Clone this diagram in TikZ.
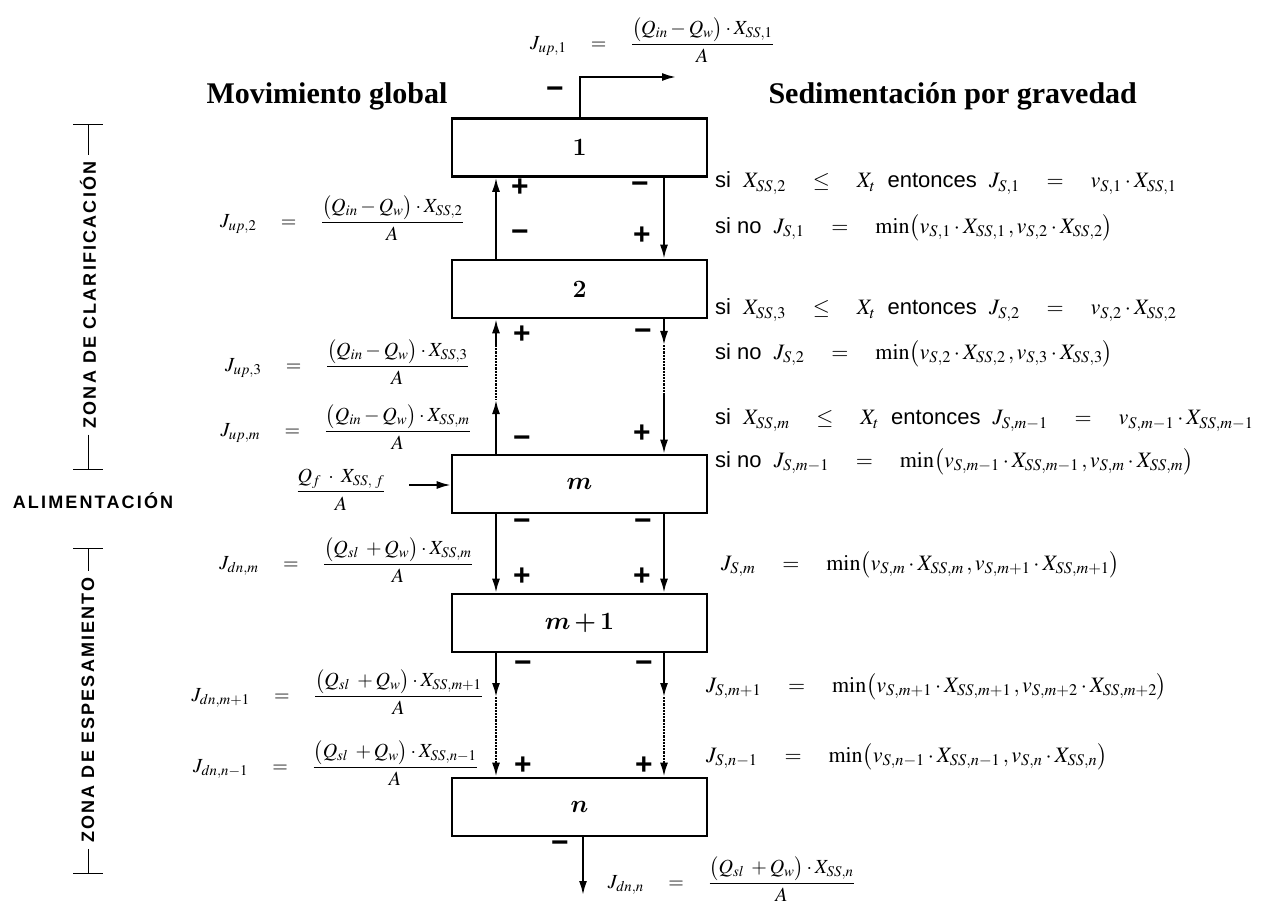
\documentclass[tikz,border=0pt]{standalone}
\usepackage{amsmath}
\usepackage{mathptmx}
\usepackage[no-math]{fontspec}
\setmainfont{Liberation Serif}
\setsansfont{Liberation Sans}
\newfontfamily\zonefont[LetterSpace=12]{Liberation Sans}
\usetikzlibrary{arrows.meta}
\newcommand{\stagenum}[1]{{\usefont{OT1}{cmr}{bx}{n}#1}}
\newcommand{\stagevar}[1]{{\usefont{OML}{cmm}{b}{it}#1}}

\begin{document}
\begin{tikzpicture}[x=1pt, y=-1pt,
  stage/.style={draw, line width=2.6pt, minimum width=255pt, minimum height=58pt, inner sep=0pt, font=\fontsize{26}{28}\selectfont},
  flow/.style={line width=2pt, -{Latex[length=14pt, width=8pt]}},
  gap/.style={line width=2.2pt, densely dotted},
  sgn/.style={inner sep=0pt, font=\fontsize{30}{30}\sffamily\bfseries},
  eq/.style={inner sep=0pt, font=\fontsize{20}{22}\selectfont},
  cond/.style={anchor=west, inner sep=0pt, font=\fontsize{22}{24}\sffamily},
  zone/.style={inner sep=6pt, font=\fontsize{18}{20}\zonefont\bfseries},
  tick/.style={line width=1pt}]
  \useasboundingbox (0,0) rectangle (1261,909);

  % stages
  \node[stage] (b1) at (579.5,147.5) {\stagenum{1}};
  \node[stage] (b2) at (579.5,289) {\stagenum{2}};
  \node[stage] (bm) at (579.5,484) {\stagevar{m}};
  \node[stage] (bm1) at (579.5,623) {\stagevar{m}\kern4pt\stagenum{+}\kern4pt\stagenum{1}};
  \node[stage] (bn) at (579.5,807) {\stagevar{n}};

  % headings
  \node[anchor=west, font=\fontsize{30}{32}\bfseries] (hmov) at (203,96) {Movimiento global};
  \node[anchor=west, font=\fontsize{30}{32}\bfseries] (hsed) at (765,96) {Sedimentación por gravedad};

  % zones
  \node[zone, rotate=90] (zclar) at (88,295) {ZONA DE CLARIFICACIÓN};
  \draw[tick] (73,125) -- (103,125);
  \draw[tick] (88,125) -- (zclar.east);
  \draw[tick] (zclar.west) -- (88,469);
  \draw[tick] (73,469) -- (103,469);
  \node[zone, inner sep=0pt] (zfeed) at (93,501) {ALIMENTACIÓN};
  \node[zone, rotate=90] (zesp) at (88,710) {ZONA DE ESPESAMIENTO};
  \draw[tick] (73,548) -- (103,548);
  \draw[tick] (88,548) -- (zesp.east);
  \draw[tick] (zesp.west) -- (88,873);
  \draw[tick] (73,873) -- (103,873);

  % connectors
  \coordinate (L) at (496,0);
  \coordinate (R) at (664,0);
  \coordinate (out) at (676,77);
  \coordinate (under) at (583,895);
  \coordinate (in) at (409,485);
  \draw[flow] (b1.north) |- (out);
  \draw[flow] (b2.north -| L) -- (b1.south -| L);
  \draw[flow] (b1.south -| R) -- (b2.north -| R);
  \coordinate (La) at (496,345);
  \coordinate (Lb) at (496,400);
  \coordinate (Ra) at (664,345);
  \coordinate (Rb) at (664,395);
  \draw[flow] (La) -- (b2.south -| L);
  \draw[gap] (La) -- (Lb);
  \draw[flow] (bm.north -| L) -- (Lb);
  \draw[flow] (b2.south -| R) -- (Ra);
  \draw[gap] (Ra) -- (Rb);
  \draw[flow] (Rb) -- (bm.north -| R);
  \draw[flow] (in) -- (in -| bm.west);
  \draw[flow] (bm.south -| L) -- (bm1.north -| L);
  \draw[flow] (bm.south -| R) -- (bm1.north -| R);
  \coordinate (Lc) at (496,697);
  \coordinate (Rc) at (664,697);
  \draw[flow] (bm1.south -| L) -- (Lc);
  \draw[flow] (bm1.south -| R) -- (Rc);
  \draw[gap, -{Latex[length=14pt, width=8pt]}] (Lc) -- (bn.north -| L);
  \draw[gap, -{Latex[length=14pt, width=8pt]}] (Rc) -- (bn.north -| R);
  \draw[flow] (bn.south -| under) -- (under);

  % signs
  \foreach \x/\y/\s [count=\i] in {555/93/−, 520/188/+, 640/188/−, 520/236/−, 642/236/+,
      522/335/+, 643/335/−, 522/442/−, 642/434/+, 522/525/−, 643/525/−, 522/577/+, 642/577/+,
      523/667/−, 644/667/−, 523/766/+, 644/766/+, 560/847/−}
    \node[sgn] (sg\i) at (\x,\y) {\s};

  % bulk flux
  \node[eq, anchor=east] (jup1) at (774,40) {$J_{up,1}\quad=\quad\dfrac{\bigl(Q_{in}-Q_{w}\bigr)\cdot X_{SS,1}}{A}$};
  \node[eq, anchor=east] (jup2) at (464,218) {$J_{up,2}\quad=\quad\dfrac{\bigl(Q_{in}-Q_{w}\bigr)\cdot X_{SS,2}}{A}$};
  \node[eq, anchor=east] (jup3) at (469,362) {$J_{up,3}\quad=\quad\dfrac{\bigl(Q_{in}-Q_{w}\bigr)\cdot X_{SS,3}}{A}$};
  \node[eq, anchor=east] (jupm) at (471,427) {$J_{up,m}\quad=\quad\dfrac{\bigl(Q_{in}-Q_{w}\bigr)\cdot X_{SS,m}}{A}$};
  \node[eq] (qf) at (341,490) {$\dfrac{Q_{f}\;\cdot\;X_{SS,\;f}}{A}$};
  \node[eq, anchor=east] (jdnm) at (473,560) {$J_{dn,m}\quad=\quad\dfrac{\bigl(Q_{sl}\;+Q_{w}\bigr)\cdot X_{SS,m}}{A}$};
  \node[eq, anchor=east] (jdnm1) at (483,692) {$J_{dn,m+1}\quad=\quad\dfrac{\bigl(Q_{sl}\;+Q_{w}\bigr)\cdot X_{SS,m+1}}{A}$};
  \node[eq, anchor=east] (jdnn1) at (478,763) {$J_{dn,n-1}\quad=\quad\dfrac{\bigl(Q_{sl}\;+Q_{w}\bigr)\cdot X_{SS,n-1}}{A}$};
  \node[eq, anchor=east] (jdnn) at (855,879) {$J_{dn,n}\quad=\quad\dfrac{\bigl(Q_{sl}\;+Q_{w}\bigr)\cdot X_{SS,n}}{A}$};

  % settling flux
  \node[cond] (c1) at (715,183) {si\ \ $X_{SS,2}\quad\le\quad X_{t}$\ \ entonces\ \ $J_{S,1}\quad=\quad v_{S,1}\cdot X_{SS,1}$};
  \node[cond] (c2) at (715,228) {si no\ \ $J_{S,1}\quad=\quad\min\bigl(v_{S,1}\cdot X_{SS,1}\,,v_{S,2}\cdot X_{SS,2}\bigr)$};
  \node[cond] (c3) at (715,310) {si\ \ $X_{SS,3}\quad\le\quad X_{t}$\ \ entonces\ \ $J_{S,2}\quad=\quad v_{S,2}\cdot X_{SS,2}$};
  \node[cond] (c4) at (715,354) {si no\ \ $J_{S,2}\quad=\quad\min\bigl(v_{S,2}\cdot X_{SS,2}\,,v_{S,3}\cdot X_{SS,3}\bigr)$};
  \node[cond] (c5) at (715,420) {si\ \ $X_{SS,m}\quad\le\quad X_{t}$\ \ entonces\ \ $J_{S,m-1}\quad=\quad v_{S,m-1}\cdot X_{SS,m-1}$};
  \node[cond] (c6) at (715,462) {si no\ \ $J_{S,m-1}\quad=\quad\min\bigl(v_{S,m-1}\cdot X_{SS,m-1}\,,v_{S,m}\cdot X_{SS,m}\bigr)$};
  \node[cond] (c7) at (721,565) {$J_{S,m}\quad=\quad\min\bigl(v_{S,m}\cdot X_{SS,m}\,,v_{S,m+1}\cdot X_{SS,m+1}\bigr)$};
  \node[cond] (c8) at (706,687) {$J_{S,m+1}\quad=\quad\min\bigl(v_{S,m+1}\cdot X_{SS,m+1}\,,v_{S,m+2}\cdot X_{SS,m+2}\bigr)$};
  \node[cond] (c9) at (706,757) {$J_{S,n-1}\quad=\quad\min\bigl(v_{S,n-1}\cdot X_{SS,n-1}\,,v_{S,n}\cdot X_{SS,n}\bigr)$};
\end{tikzpicture}
\end{document}
